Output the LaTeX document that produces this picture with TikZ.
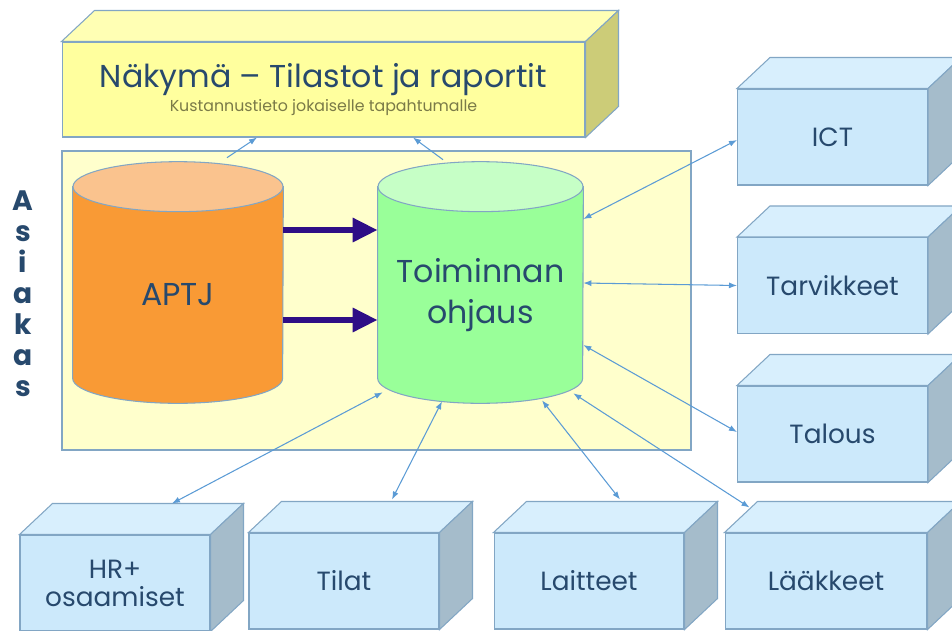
\documentclass[tikz,border=0pt]{standalone}
\usepackage{fontspec}
\setmainfont{Poppins}
\usetikzlibrary{arrows.meta}

\definecolor{teksti}{HTML}{27496D}
\definecolor{reuna}{HTML}{82A6C4}
\definecolor{nuoli}{HTML}{5B9BD5}
\definecolor{tumma}{HTML}{2E0E86}
\definecolor{pohja}{HTML}{FFFFCC}
\definecolor{keltainen}{HTML}{FFFF9E}
\definecolor{keltaylä}{HTML}{FFFFB4}
\definecolor{keltasivu}{HTML}{CCCC78}
\definecolor{sininen}{HTML}{CCE9FB}
\definecolor{sinylä}{HTML}{D8EFFD}
\definecolor{sinsivu}{HTML}{A5BCCB}
\definecolor{oranssi}{HTML}{F99A35}
\definecolor{oranssiylä}{HTML}{FAC38E}
\definecolor{vihreä}{HTML}{99FF99}
\definecolor{vihreäylä}{HTML}{C6FFC6}

\begin{document}
\begin{tikzpicture}[x=0.02cm,y=0.02cm,
    laatikko/.style={draw=reuna,fill=sininen,line width=0.6pt,minimum width=3.8cm,
      minimum height=1.92cm,inner sep=0pt,align=center,text=teksti,
      font=\fontsize{15}{17}\selectfont},
    kanta/.style={minimum height=4.32cm,inner sep=0pt,align=center,text=teksti,
      font=\fontsize{18}{23}\selectfont},
    pinta/.style={draw=reuna,line width=0.6pt},
    ohut/.style={draw=nuoli,line width=0.6pt,{Latex[length=0.16cm,width=0.12cm]}-{Latex[length=0.16cm,width=0.12cm]}},
    ylos/.style={draw=nuoli,line width=0.6pt,-{Latex[length=0.16cm,width=0.12cm]}},
    paksu/.style={draw=tumma,line width=0.12cm,-{Triangle[length=0.5cm,width=0.46cm]}}]
  \useasboundingbox (0,0) rectangle (952,630);
  \clip (0,0) rectangle (952,630);

  \draw[reuna,fill=pohja,line width=0.6pt] (62,180) rectangle (691,479);
  \node[text=teksti,align=center,font=\fontsize{16}{17.6}\bfseries] (asiakas) at (23,336)
    {A\\s\\i\\a\\k\\a\\s};

  % laatikot
  \node[laatikko,fill=keltainen,minimum width=10.46cm,minimum height=1.9cm] (nakyma) at (323.5,540.5)
    {\fontsize{18}{21}\selectfont Näkymä – Tilastot ja raportit\\[-3pt]
     {\color{keltasivu!60!black}\fontsize{9}{10}\selectfont Kustannustieto jokaiselle tapahtumalle}};
  \node[laatikko] (ict) at (832.5,493) {ICT};
  \node[laatikko] (tarv) at (832.5,344.5) {Tarvikkeet};
  \node[laatikko] (talous) at (832.5,196) {Talous};
  \node[laatikko] (hr) at (115,47) {HR+\\[-1pt]osaamiset};
  \node[laatikko] (tilat) at (344,49) {Tilat};
  \node[laatikko] (laitteet) at (589,49) {Laitteet};
  \node[laatikko,minimum width=4.04cm] (laakkeet) at (826,49) {Lääkkeet};

  \foreach \n/\yla/\sivu in {nakyma/keltaylä/keltasivu,ict/sinylä/sinsivu,tarv/sinylä/sinsivu,
      talous/sinylä/sinsivu,hr/sinylä/sinsivu,tilat/sinylä/sinsivu,laitteet/sinylä/sinsivu,
      laakkeet/sinylä/sinsivu} {
    \filldraw[pinta,fill=\yla] (\n.north west) -- ([shift={(33,31)}]\n.north west)
      -- ([shift={(33,31)}]\n.north east) -- (\n.north east) -- cycle;
    \filldraw[pinta,fill=\sivu] (\n.north east) -- ([shift={(33,31)}]\n.north east)
      -- ([shift={(33,31)}]\n.south east) -- (\n.south east) -- cycle;
  }

  % tietokannat
  \node[kanta,minimum width=4.2cm] (aptj) at (178,335) {};
  \node[kanta,minimum width=4.1cm] (toim) at (480.5,335) {};
  \filldraw[pinta,fill=oranssi] (aptj.north west) -- ([yshift=0.5cm]aptj.south west)
    arc[start angle=180,end angle=360,x radius=2.1cm,y radius=0.5cm] -- (aptj.north east) -- cycle;
  \filldraw[pinta,fill=oranssiylä] (aptj.north) ellipse [x radius=2.1cm,y radius=0.5cm];
  \filldraw[pinta,fill=vihreä] (toim.north west) -- ([yshift=0.5cm]toim.south west)
    arc[start angle=180,end angle=360,x radius=2.05cm,y radius=0.5cm] -- (toim.north east) -- cycle;
  \filldraw[pinta,fill=vihreäylä] (toim.north) ellipse [x radius=2.05cm,y radius=0.5cm];
  \node[kanta] at (aptj) {APTJ};
  \node[kanta] at (toim) {Toiminnan\\ohjaus};

  \draw[paksu] ([yshift=1.3cm]aptj.east) -- ([yshift=1.3cm]toim.west);
  \draw[paksu] ([yshift=-0.5cm]aptj.east) -- ([yshift=-0.5cm]toim.west);

  % yhteydet
  \draw[ylos] ([shift={(49,29)}]aptj.north) -- ([xshift=-1.33cm]nakyma.south);
  \draw[ylos] ([shift={(-37.5,27)}]toim.north) -- ([xshift=1.79cm]nakyma.south);
  \draw[ohut] ([yshift=1.52cm]toim.east) -- ([yshift=-0.06cm]ict.west);
  \draw[ohut] ([yshift=0.24cm]toim.east) -- (tarv.west);
  \draw[ohut] ([yshift=-1cm]toim.east) -- ([yshift=0.04cm]talous.west);
  \draw[ohut] ([shift={(-10,10)}]toim.south east) -- ([shift={(25,25)}]laakkeet.north west);
  \draw[ohut] ([shift={(61.5,3)}]toim.south) -- ([shift={(31,33)}]laitteet.north);
  \draw[ohut] ([shift={(-38.5,2)}]toim.south) -- ([shift={(48,33)}]tilat.north);
  \draw[ohut] ([shift={(5,11)}]toim.south west) -- ([shift={(57,31)}]hr.north);
\end{tikzpicture}
\end{document}
